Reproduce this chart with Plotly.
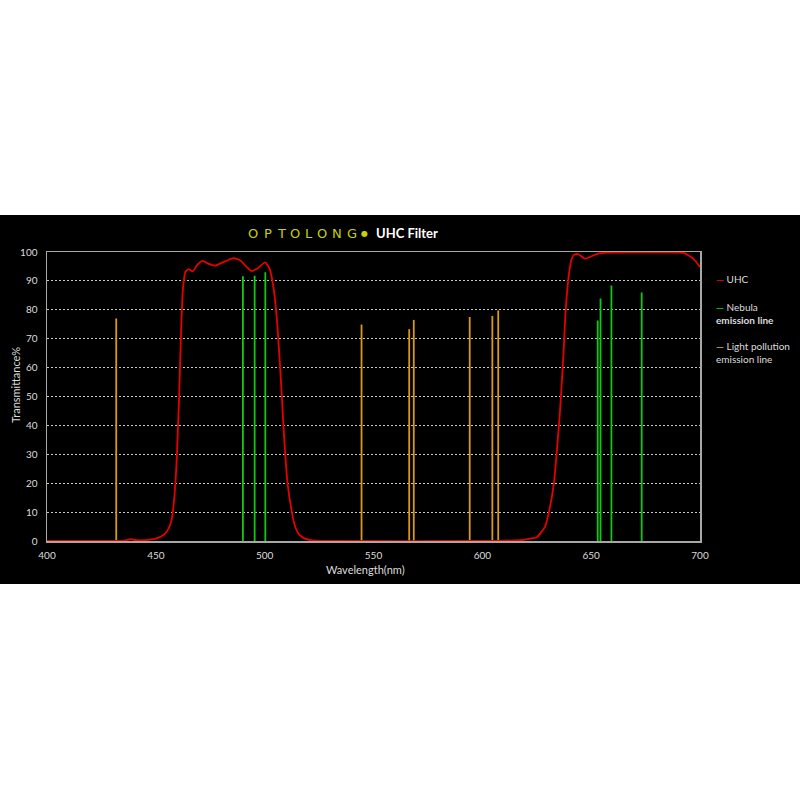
import plotly.graph_objects as go

# ---- data ----
uhc_wl = [400, 430, 435, 438.3, 441, 445, 450, 453, 455, 457, 457.8, 459, 459.7, 460.2, 460.7,
          461.5, 462.4, 463.6, 465, 467, 469, 471.5, 474, 477.3, 481, 485.7, 489, 491.5, 494.1,
          497, 500.2, 502.2, 504, 505.9, 507.9, 508.6, 510.5, 512.5, 514, 515.5, 518, 521, 530,
          600, 615, 619, 622, 625, 627, 628.8, 630.6, 632.9, 634.1, 635.2, 636, 637.3, 638.3,
          639.8, 641, 642, 644, 647.2, 650, 654, 660, 690, 693, 696.9, 700]
uhc_t = [0, 0, 0.1, 0.6, 0.3, 0.3, 0.8, 1.8, 3.2, 6.5, 10, 20, 30, 40, 50,
         70, 86.8, 93.1, 94.1, 93.3, 95.5, 96.9, 96.0, 95.3, 96.5, 97.9, 97.0, 95.0, 93.4,
         94.5, 96.4, 94.3, 87.9, 74.1, 49.9, 40, 20, 10, 5, 2.6, 1.0, 0.3, 0,
         0, 0.2, 0.4, 0.8, 1.3, 3.0, 5, 10, 20, 30, 40, 48.7, 65, 80,
         92.4, 97.5, 99.0, 99.3, 97.7, 98.5, 99.6, 99.8, 99.8, 99.6, 97.7, 94.8]

nebula_wl = [490.0, 495.4, 500.3, 653.0, 654.3, 659.3, 673.2]
nebula_h = [91.6, 91.8, 93.0, 76.3, 83.9, 88.4, 86.0]

pollution_wl = [431.8, 544.5, 566.4, 568.5, 594.2, 604.6, 607.3]
pollution_h = [77.0, 74.9, 73.3, 76.5, 77.5, 77.9, 79.8]

x_ticks = [400, 450, 500, 550, 600, 650, 700]
y_ticks = [0, 10, 20, 30, 40, 50, 60, 70, 80, 90, 100]

logo_letters = ["O", "P", "T", "O", "L", "O", "N", "G"]

# ---- helpers ----
def spikes(wls, hs):
    xs, ys = [], []
    for w, h in zip(wls, hs):
        xs += [w, w, None]
        ys += [0, h, None]
    return xs, ys

RED = "#e60000"
GREEN = "#12c812"
ORANGE = "#d99a10"
TXT = "#dcdcdc"
FONT = "Lato"

fig = go.Figure()
nx, ny = spikes(nebula_wl, nebula_h)
px_, py_ = spikes(pollution_wl, pollution_h)
fig.add_trace(go.Scatter(x=px_, y=py_, mode="lines", line=dict(color=ORANGE, width=1.8),
                         name="Light pollution emission line", showlegend=False))
fig.add_trace(go.Scatter(x=nx, y=ny, mode="lines", line=dict(color=GREEN, width=1.8),
                         name="Nebula emission line", showlegend=False))
fig.add_trace(go.Scatter(x=uhc_wl, y=uhc_t, mode="lines",
                         line=dict(color=RED, width=1.8, shape="spline", smoothing=0.5),
                         name="UHC", showlegend=False))

L, R, T, B = 47, 100, 252, 259
PW = 800 - L - R
PH = 800 - T - B

def pxx(p):
    return (p - L) / PW

def pxy(p):
    return (800 - B - p) / PH

shapes = [dict(type="rect", xref="paper", yref="paper", x0=pxx(0), x1=pxx(800),
               y0=pxy(584), y1=pxy(215), fillcolor="black", line=dict(width=0), layer="below")]

ann = []
# logo
logo_x = [253.3, 267.5, 281.3, 295, 309, 322.3, 336.7, 352.2]
for ch, xx in zip(logo_letters, logo_x):
    ann.append(dict(x=pxx(xx), y=pxy(233.5), xref="paper", yref="paper", text=ch,
                    showarrow=False, xanchor="center", yanchor="middle",
                    font=dict(family="DejaVu Sans", size=13, color="#c8d200")))
ann.append(dict(x=pxx(364.2), y=pxy(233.5), xref="paper", yref="paper", text="●",
                showarrow=False, xanchor="center", yanchor="middle",
                font=dict(family="DejaVu Sans", size=8, color="#c8d200")))
ann.append(dict(x=pxx(374), y=pxy(233), xref="paper", yref="paper", text="<b>UHC Filter</b>",
                showarrow=False, xanchor="left", yanchor="middle",
                font=dict(family=FONT, size=13, color="white")))
# axis titles
ann.append(dict(x=pxx(15), y=pxy(385), xref="paper", yref="paper", text="Transmittance%",
                showarrow=False, textangle=-90, xanchor="center", yanchor="middle",
                font=dict(family=FONT, size=11, color=TXT)))
ann.append(dict(x=pxx(365), y=pxy(569.5), xref="paper", yref="paper", text="Wavelength(nm)",
                showarrow=False, xanchor="center", yanchor="middle",
                font=dict(family=FONT, size=11, color=TXT)))
# legend
leg = [
    (279, f"<span style='color:{RED}'><b>—</b></span> UHC"),
    (306.5, f"<span style='color:{GREEN}'><b>—</b></span> Nebula"),
    (319.5, "<b>emission line</b>"),
    (345.5, f"<span style='color:{ORANGE}'><b>—</b></span> Light pollution"),
    (359, "emission line"),
]
for yy, txt in leg:
    ann.append(dict(x=pxx(714), y=pxy(yy), xref="paper", yref="paper", text=txt,
                    showarrow=False, xanchor="left", yanchor="middle",
                    font=dict(family=FONT, size=10, color=TXT)))

fig.update_layout(
    width=800, height=800, autosize=False,
    margin=dict(l=L, r=R, t=T, b=B, pad=0),
    paper_bgcolor="white", plot_bgcolor="black",
    shapes=shapes, annotations=ann, showlegend=False,
    xaxis=dict(range=[400, 700], tickvals=x_ticks, ticktext=[str(v) for v in x_ticks],
               showgrid=False, zeroline=False, showline=True, mirror=True,
               linecolor="#a8a8a8", linewidth=1.5, ticks="", ticklabelstandoff=4,
               tickfont=dict(family=FONT, size=10, color=TXT)),
    yaxis=dict(range=[0, 100], tickvals=y_ticks, ticktext=[str(v) for v in y_ticks],
               showgrid=True, gridcolor="#c8c8c8", gridwidth=1, griddash="2px,2px",
               zeroline=False, showline=True, mirror=True,
               linecolor="#a8a8a8", linewidth=1.5, ticks="", ticklabelstandoff=6,
               tickfont=dict(family=FONT, size=10, color=TXT)),
)

fig.write_html("out.html", config={"displayModeBar": False, "staticPlot": True},
               post_script="document.body.style.margin='0';document.body.style.overflow='hidden';")
